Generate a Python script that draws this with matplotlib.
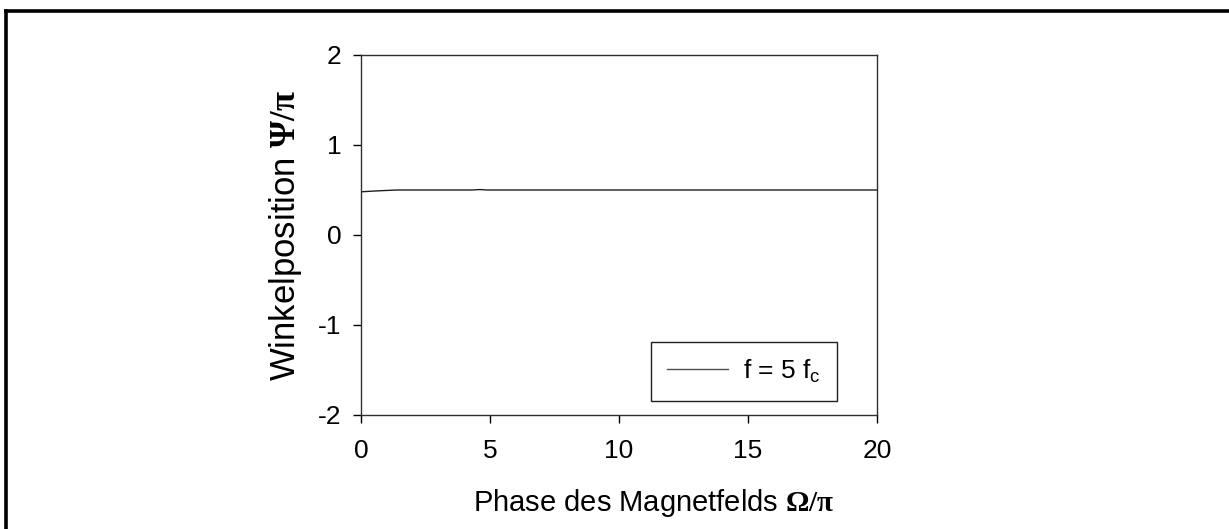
import numpy as np
import matplotlib
matplotlib.use('Agg')
from matplotlib import pyplot as plt
from matplotlib.lines import Line2D

plt.rcParams['font.family'] = ['Liberation Sans', 'DejaVu Sans']
plt.rcParams['mathtext.fontset'] = 'custom'
plt.rcParams['mathtext.rm'] = 'Liberation Sans'
plt.rcParams['mathtext.bf'] = 'Liberation Serif:bold'
plt.rcParams['axes.unicode_minus'] = False

#--------------------------------------------------------60
# Winkelposition over the field phase, f = 5 f_c
phase = [0.0, 0.3, 0.6, 1.0, 1.4, 3.0, 4.3, 4.6, 4.9, 8.0, 12.0, 16.0, 20.0]
psi   = [0.48, 0.485, 0.49, 0.495, 0.50, 0.50, 0.50, 0.505, 0.50, 0.50, 0.50, 0.50, 0.50]

x_ticks = [0, 5, 10, 15, 20]
y_ticks = [-2, -1, 0, 1, 2]

#--------------------------------------------------------60

fig = plt.figure(figsize=(12.29, 5.29), dpi=100)

# outer frame (only top and left edge fall inside the image)
fig.add_artist(Line2D([6/1229, 6/1229], [0, 1 - 11/529], color='black', lw=2.6,
                      transform=fig.transFigure))
fig.add_artist(Line2D([6/1229, 1], [1 - 11/529, 1 - 11/529], color='black', lw=2.6,
                      transform=fig.transFigure))

ax = fig.add_axes([361/1229, 114/529, 516/1229, 360/529])
ax.plot(phase, psi, color='#202020', lw=1.0, label=r'f = 5 f$_{\rm c}$')

ax.set_xlim(0, 20)
ax.set_ylim(-2, 2)
ax.set_xticks(x_ticks)
ax.set_yticks(y_ticks)
ax.tick_params(direction='out', length=6, width=1, labelsize=19, pad=8)
ax.tick_params(axis='x', pad=11)
for s in ax.spines.values():
    s.set_linewidth(1.0)
    s.set_color('#303030')

ax.set_xlabel(r'Phase des Magnetfelds $\mathbf{\Omega/\pi}$', fontsize=21,
              va='center', ha='center')
ax.set_ylabel(r'Winkelposition $\mathbf{\Psi/\pi}$', fontsize=25,
              va='center', ha='center')
ax.xaxis.set_label_coords((654 - 361) / 516, (415 - 503) / 360)
ax.yaxis.set_label_coords((285 - 361) / 516, 0.5)

leg = ax.legend(loc='lower right', bbox_to_anchor=(0.9225, 0.039), borderaxespad=0,
                fontsize=19, fancybox=False, framealpha=1, handlelength=2.3,
                borderpad=0.6, handletextpad=0.6)
leg.get_frame().set_edgecolor('#202020')
leg.get_frame().set_linewidth(1.0)
leg.get_lines()[0].set_color('#505050')

plt.savefig('out.png', dpi=100)
